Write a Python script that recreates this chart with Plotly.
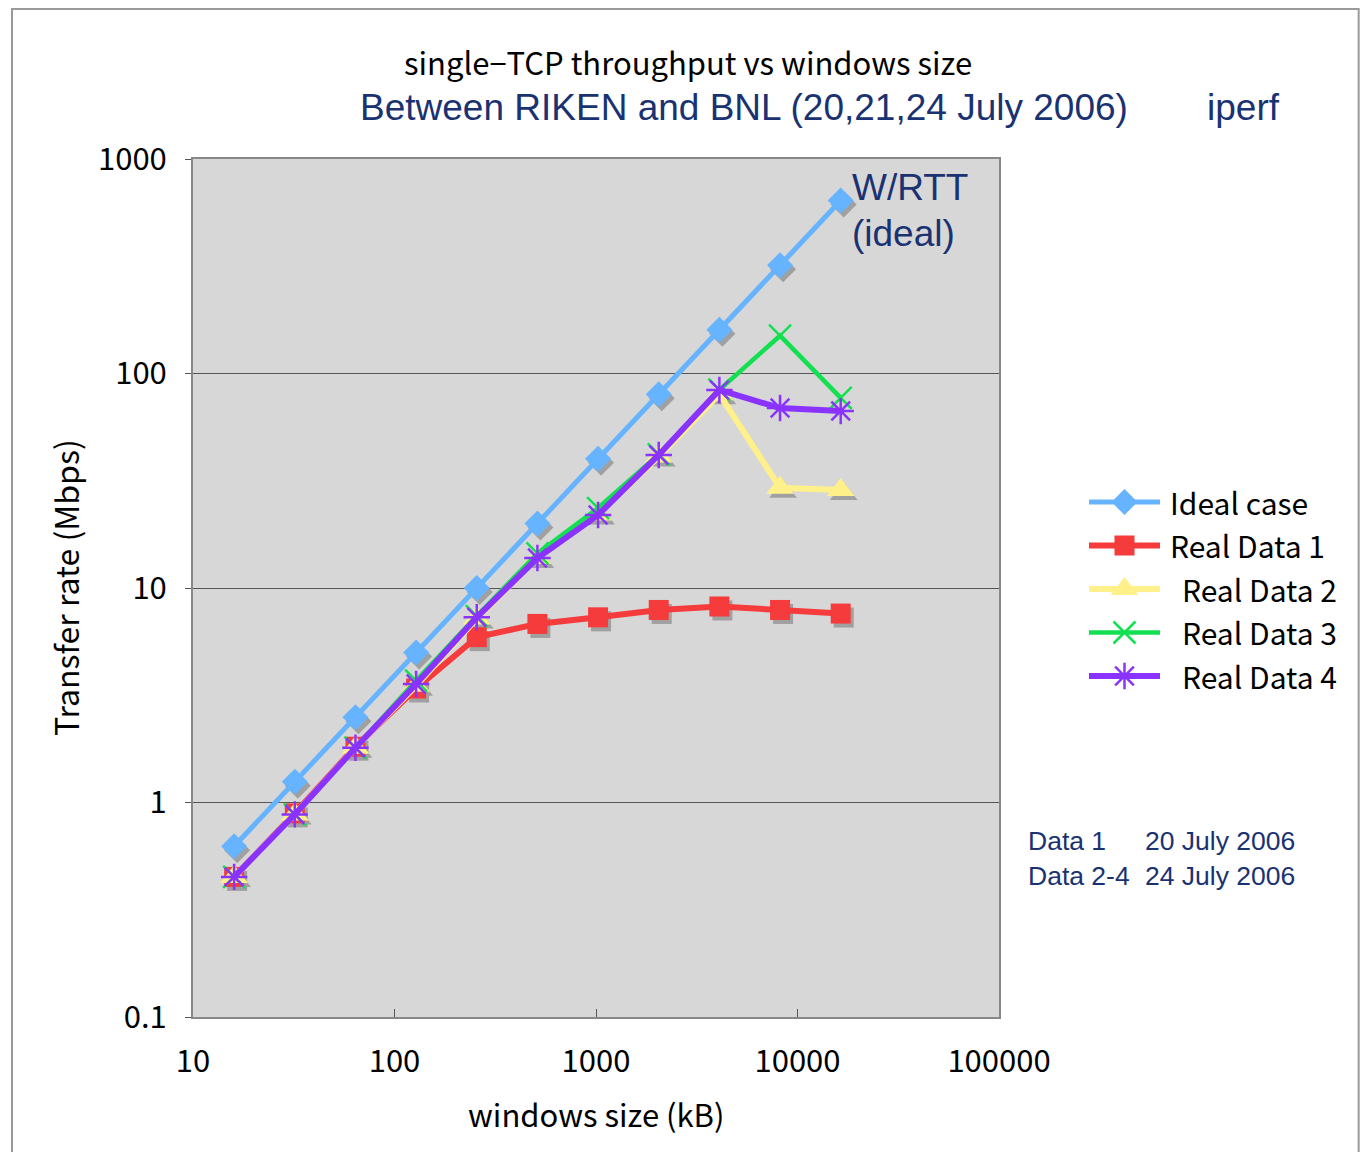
import plotly.graph_objects as go

window_kb = [16, 32, 64, 128, 256, 512, 1024, 2048, 4096, 8192, 16384]
ideal = [0.625, 1.25, 2.5, 5, 10, 20, 40, 80, 160, 320, 640]
real1 = [0.45, 0.89, 1.82, 3.4, 5.9, 6.8, 7.3, 7.9, 8.2, 7.9, 7.6]
real2 = [0.45, 0.88, 1.8, 3.5, 7.2, 13.8, 22, 41, 80, 29.3, 28.6]
real3 = [0.45, 0.88, 1.8, 3.7, 7.4, 14.5, 23.6, 42, 84, 150, 77]
real4 = [0.45, 0.88, 1.8, 3.57, 7.3, 13.8, 21.9, 41.7, 83.8, 69, 66.8]

y_tickvals = [0.1, 1, 10, 100, 1000]
y_ticktext = ["0.1", "1", "10", "100", "1000"]
x_tickvals = [10, 100, 1000, 10000, 100000]
x_ticktext = ["10", "100", "1000", "10000", "100000"]

series = [
    ("Ideal case", ideal, "#66b3ff", "diamond", 20, 5),
    ("Real Data 1", real1, "#f53b3b", "square", 20, 6),
    ("Real Data 2", real2, "#fff08a", "triangle-up", 24, 6),
    ("Real Data 3", real3, "#13e050", "x-thin-open", 22, 4.5),
    ("Real Data 4", real4, "#8a33ff", "asterisk-open", 22, 6),
]

NAVY = "#1a3272"
FONT = "Liberation Sans, Arial, sans-serif"
JFONT = "Noto Sans CJK JP, Noto Sans, sans-serif"

# the page body adds an 8px margin on every side
OFF = 8
W, H = 1368 - 2 * OFF, 1160 - 2 * OFF
L, R, T, B = 193, 999, 159, 1017


def px(xp):
    return (xp - OFF) / W


def py(yp):
    return (H - (yp - OFF)) / H


fig = go.Figure()

# marker shadows (offset a few pixels right/down in log space)
sx = 10 ** (3 / 201.5)
sy = 10 ** (-4 / 214.5)
for name, vals, color, sym, size, lw in series:
    if sym in ("diamond", "square", "triangle-up"):
        fig.add_trace(go.Scatter(
            x=[v * sx for v in window_kb], y=[v * sy for v in vals],
            mode="markers", showlegend=False, hoverinfo="skip",
            marker=dict(symbol=sym, size=size, color="#a0a0a0"),
        ))


def make_marker(sym, size, color):
    if sym.endswith("open"):
        return dict(symbol=sym, size=size, color=color, line=dict(color=color, width=2.5))
    return dict(symbol=sym, size=size, color=color, line=dict(width=0))


for name, vals, color, sym, size, lw in series:
    fig.add_trace(go.Scatter(
        x=window_kb, y=vals, mode="lines+markers", name=name, showlegend=False,
        line=dict(color=color, width=lw), marker=make_marker(sym, size, color),
    ))

row0, row4 = 502, 676
step = (row4 - row0) / 4

# manual legend in its own axes
for i, (name, vals, color, sym, size, lw) in enumerate(series):
    fig.add_trace(go.Scatter(
        x=[0, 1], y=[i, i], xaxis="x2", yaxis="y2", mode="lines",
        line=dict(color=color, width=lw), showlegend=False, hoverinfo="skip",
    ))
    fig.add_trace(go.Scatter(
        x=[0.5], y=[i], xaxis="x2", yaxis="y2", mode="markers",
        marker=make_marker(sym, size, color), showlegend=False, hoverinfo="skip",
    ))
    label_x = 1168 if i < 2 else 1180
    fig.add_annotation(
        x=px(label_x), y=py(row0 + i * step), xref="paper", yref="paper", text=name,
        showarrow=False, xanchor="left", yanchor="middle",
        font=dict(family=JFONT, size=30, color="#000000"),
    )

fig.update_layout(
    width=W, height=H,
    margin=dict(l=0, r=0, t=0, b=0, pad=0),
    paper_bgcolor="white", plot_bgcolor="rgba(0,0,0,0)",
    showlegend=False,
    xaxis=dict(
        domain=[px(L), px(R)], anchor="y", automargin=False,
        type="log", range=[1, 5], tickvals=x_tickvals, ticktext=x_ticktext,
        ticks="inside", ticklen=8, tickcolor="#555", showgrid=False,
        showline=True, linecolor="#888", linewidth=2, mirror=True,
        tickfont=dict(family=JFONT, size=31, color="#000"), ticklabelstandoff=16,
        zeroline=False,
    ),
    yaxis=dict(
        domain=[py(B), py(T)], anchor="x", automargin=False,
        type="log", range=[-1, 3], tickvals=y_tickvals, ticktext=y_ticktext,
        ticks="outside", ticklen=6, tickcolor="#555", showgrid=True, gridcolor="#555", gridwidth=1,
        showline=True, linecolor="#888", linewidth=2, mirror=True,
        tickfont=dict(family=JFONT, size=31, color="#000"), ticklabelstandoff=12,
        zeroline=False,
    ),
    xaxis2=dict(domain=[px(1089), px(1160)], range=[0, 1], visible=False, anchor="y2"),
    yaxis2=dict(domain=[py(row4 + step / 2), py(row0 - step / 2)], range=[4.5, -0.5],
                visible=False, anchor="x2"),
)

# gray plot background
fig.add_shape(type="rect", xref="x domain", yref="y domain", x0=0, x1=1, y0=0, y1=1,
              fillcolor="#d7d7d7", line=dict(width=0), layer="below")
# outer frame (left, top, right sides only)
fx0, fx1, fy1 = px(12), 0.999, py(9)
fig.add_shape(type="path", xref="paper", yref="paper",
              path=f"M {fx0},0 L {fx0},{fy1} L {fx1},{fy1} L {fx1},0",
              line=dict(color="#9a9a9a", width=2), fillcolor="rgba(0,0,0,0)")


def note(x, y, text, size, color, family, xanchor="center"):
    fig.add_annotation(x=px(x), y=py(y), xref="paper", yref="paper", text=text,
                       showarrow=False, xanchor=xanchor, yanchor="middle",
                       font=dict(family=family, size=size, color=color))


note(688, 62, "single−TCP throughput vs windows size", 31, "#000", JFONT)
note(744, 108, "Between RIKEN and BNL (20,21,24 July 2006)", 37, NAVY, FONT)
note(1243, 108, "iperf", 37, NAVY, FONT)
note(850, 187, "W/RTT", 37, NAVY, FONT, "left")
note(850, 233, "(ideal)", 37, NAVY, FONT, "left")
note(1026, 841, "Data 1", 26.5, NAVY, FONT, "left")
note(1143, 841, "20 July 2006", 26.5, NAVY, FONT, "left")
note(1026, 876, "Data 2-4", 26.5, NAVY, FONT, "left")
note(1143, 876, "24 July 2006", 26.5, NAVY, FONT, "left")
note(596, 1113, "windows size (kB)", 31, "#000", JFONT)
fig.add_annotation(x=px(65), y=py(588), xref="paper", yref="paper", text="Transfer rate (Mbps)",
                   showarrow=False, textangle=-90, xanchor="center", yanchor="middle",
                   font=dict(family=JFONT, size=32, color="#000"))

fig.write_html("out.html")
